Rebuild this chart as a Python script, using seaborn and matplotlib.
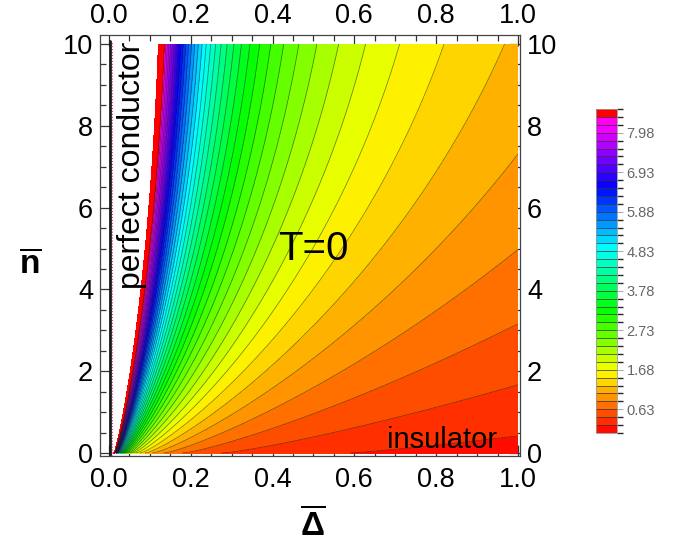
import numpy as np
import matplotlib
matplotlib.use("Agg")
import matplotlib.pyplot as plt
import seaborn as sns
from matplotlib.colors import ListedColormap, BoundaryNorm
from matplotlib.cm import ScalarMappable
from matplotlib.ticker import MultipleLocator

# values: along each row the field goes like a(n)/delta + b(n)
n_nodes = [0.0, 0.6, 1.5, 3.0, 5.0, 7.5, 10.0]
a_nodes = [0.11, 0.25, 0.42, 0.62, 0.84, 1.00, 1.13]
b_nodes = [0.03, -0.03, -0.01, 0.00, 0.00, 0.05, 0.10]

level_step = 0.21      # spacing of the contours
n_bands = 41           # bands in the legend (0 .. 8.61)
clip_top = 9.4         # above this the plot is left white
hue_span = 9.66        # value that would map to a full turn of hue

cbar_ticks = [0.63, 1.68, 2.73, 3.78, 4.83, 5.88, 6.93, 7.98]
x_ticks = [0.0, 0.2, 0.4, 0.6, 0.8, 1.0]
y_ticks = [0, 2, 4, 6, 8, 10]
conductor_delta = 0.002

sns.set_theme(style="ticks")
plt.rcParams["font.family"] = ["Liberation Sans", "DejaVu Sans"]
plt.rcParams["mathtext.fontset"] = "custom"
plt.rcParams["mathtext.rm"] = "Liberation Sans"
plt.rcParams["mathtext.bf"] = "Liberation Sans:bold"
for key in ["text.color", "axes.labelcolor", "xtick.labelcolor", "ytick.labelcolor"]:
    plt.rcParams[key] = "black"

# smooth curves through the readings
sq = np.sqrt(n_nodes)
pa = np.polyfit(sq, a_nodes, 3)
pb = np.polyfit(sq, b_nodes, 2)

delta = np.concatenate([np.linspace(0.001, 0.2, 500), np.linspace(0.2, 1.0, 300)[1:]])
nn = np.linspace(0, 10, 500)
D, N = np.meshgrid(delta, nn)
A = np.polyval(pa, np.sqrt(N))
B = np.polyval(pb, np.sqrt(N))
V = A / D + B

hsv = sns.color_palette("hsv", as_cmap=True)
centers = (np.arange(n_bands) + 0.5) * level_step
band_colors = [hsv(c / hue_span) for c in centers[:-1]] + [(1.0, 0.0, 0.0, 1.0)]

fill_levels = [-1.0] + [level_step * k for k in range(1, n_bands)] + [clip_top]
line_levels = [level_step * k for k in range(1, n_bands)]

fig = plt.figure(figsize=(6.88, 5.5), dpi=100)
ax = fig.add_axes([100 / 688, 1 - 456 / 550, 420 / 688, 421 / 550])

ax.contourf(D, N, V, levels=fill_levels, colors=band_colors)
ax.contour(D, N, V, levels=line_levels, colors="k", linewidths=0.55, alpha=0.55)
ax.axvline(conductor_delta, color="k", lw=2.0, ymax=0.985)
ax.axvline(conductor_delta * 3.5, color="#e0407a", lw=0.8, ls=":", ymax=0.985)

ax.set_xlim(-0.022, 1.005)
ax.set_ylim(-0.073, 10.22)
ax.set_xticks(x_ticks)
ax.set_xticklabels([f"{t:.1f}" for t in x_ticks])
ax.set_yticks(y_ticks)
ax.xaxis.set_minor_locator(MultipleLocator(0.05))
ax.yaxis.set_minor_locator(MultipleLocator(0.5))
ax.tick_params(which="both", direction="in", top=True, right=True,
               labeltop=False, labelright=True, color="#333333", width=0.9)
ax.tick_params(which="major", length=8, labelsize=19.5)
ax.tick_params(axis="x", which="major", pad=8)
ax.tick_params(axis="y", which="major", pad=5)
ax.tick_params(which="minor", length=4)
for s in ax.spines.values():
    s.set_color("#444444")
    s.set_linewidth(0.9)

# labels along the top edge sit closer to the frame
top = ax.secondary_xaxis("top")
top.set_xticks(x_ticks)
top.set_xticklabels([f"{t:.1f}" for t in x_ticks])
top.tick_params(length=0, labelsize=19.5, pad=4)
top.spines["top"].set_visible(False)

ax.set_ylabel(r"$\overline{\mathbf{n}}$", fontsize=24, rotation=0, va="center")
ax.yaxis.set_label_coords(-0.167, 0.454)
ax.set_xlabel(r"$\overline{\mathbf{\Delta}}$", fontsize=24, va="center")
ax.xaxis.set_label_coords(0.507, -0.164)

ax.text(0.056, 10.05, "perfect conductor", rotation=90, ha="center", va="top", fontsize=23)
ax.text(0.5, 4.99, "T=0", ha="center", va="center", fontsize=29)
ax.text(0.814, 0.32, "insulator", ha="center", va="center", fontsize=21)

cax = fig.add_axes([596 / 688, 1 - 433 / 550, 21 / 688, 324 / 550])
bounds = [level_step * k for k in range(n_bands + 1)]
sm = ScalarMappable(norm=BoundaryNorm(bounds, n_bands), cmap=ListedColormap(band_colors))
cb = fig.colorbar(sm, cax=cax, drawedges=True, ticks=cbar_ticks)
cb.dividers.set_color("#333333")
cb.dividers.set_linewidth(0.5)
cb.outline.set_edgecolor("#999999")
cb.outline.set_linewidth(0.6)
cb.ax.set_yticklabels([f"{t:.2f}" for t in cbar_ticks])
cb.ax.tick_params(labelsize=10.5, labelcolor="#666666", color="#999999", length=4, width=0.6, pad=3)

fig.savefig("out.png", dpi=100)
